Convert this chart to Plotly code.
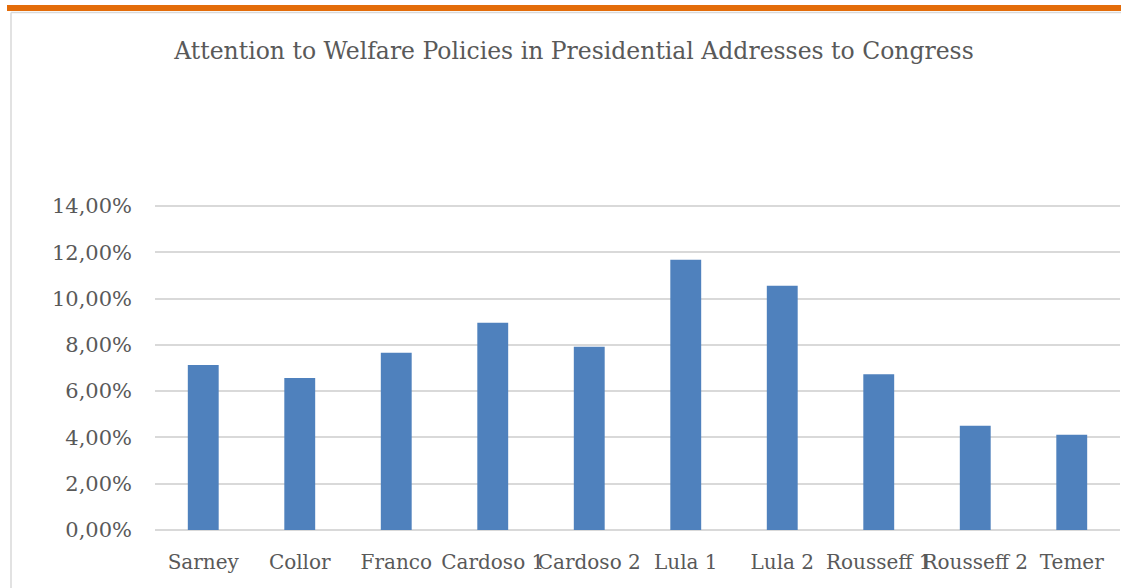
import plotly.graph_objects as go

categories = ["Sarney", "Collor", "Franco", "Cardoso 1", "Cardoso 2",
              "Lula 1", "Lula 2", "Rousseff 1", "Rousseff 2", "Temer"]
values = [7.13, 6.57, 7.66, 8.96, 7.92, 11.68, 10.55, 6.73, 4.50, 4.12]
y_ticks = [0, 2, 4, 6, 8, 10, 12, 14]
y_tick_text = [f"{v:.2f}".replace(".", ",") + "%" for v in y_ticks]

W, H = 1121, 588
L, R, T, B = 155, 1, 202, 58
pw, ph = W - L - R, H - T - B
y_top = 14 * ph / 324  # 14% gridline lands at y=206px

def px_x(p):
    return (p - L) / pw

def px_y(p):
    return (H - B - p) / ph

FONT = "DejaVu Serif"

fig = go.Figure(go.Bar(x=categories, y=values, marker_color="#4F81BD",
                       marker_line_width=0, width=0.32))

shapes = [
    # orange rule at top
    dict(type="rect", xref="paper", yref="paper", x0=px_x(7), x1=px_x(1125),
         y0=px_y(11), y1=px_y(5), fillcolor="#E36C0A", line_width=0, layer="above"),
    # chart frame
    dict(type="line", xref="paper", yref="paper", x0=px_x(11), x1=px_x(1125),
         y0=px_y(12.5), y1=px_y(12.5), line=dict(color="#D9D9D9", width=1.5)),
    dict(type="line", xref="paper", yref="paper", x0=px_x(11), x1=px_x(11),
         y0=px_y(12.5), y1=px_y(600), line=dict(color="#D9D9D9", width=1.5)),
]

fig.update_layout(
    width=W, height=H,
    margin=dict(l=L, r=R, t=T, b=B),
    paper_bgcolor="white", plot_bgcolor="white",
    showlegend=False,
    shapes=shapes,
    font=dict(family=FONT, color="#595959", size=20),
    title=dict(text="Attention to Welfare Policies in Presidential Addresses to Congress",
               x=574 / W, xanchor="center", y=1 - 51 / H, yanchor="middle",
               font=dict(size=23.5, color="#595959", family=FONT)),
    bargap=0.68,
)
fig.update_xaxes(tickangle=0, showgrid=False, showline=False, ticks="",
                 ticklabelstandoff=18, tickfont=dict(size=20))
fig.update_yaxes(range=[0, y_top], tickvals=y_ticks, ticktext=y_tick_text,
                 showgrid=True, gridcolor="#D9D9D9", gridwidth=1.5,
                 zeroline=True, zerolinecolor="#D9D9D9", zerolinewidth=1.5,
                 showline=False, ticks="", ticklabelstandoff=22,
                 tickfont=dict(size=21))

fig.write_html("out.html", config={"displayModeBar": False},
               post_script="document.body.style.margin='0';")
